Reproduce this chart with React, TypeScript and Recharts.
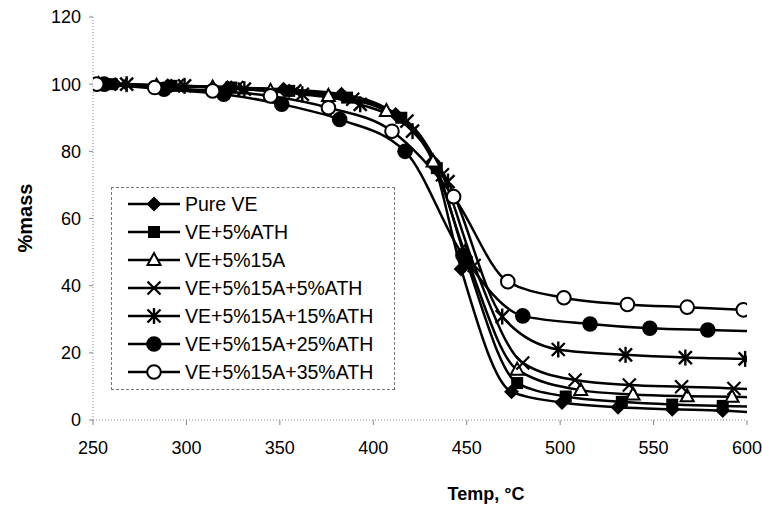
import { LineChart, Line, XAxis, YAxis } from 'recharts'

const FONT = '"Liberation Sans", Arial, sans-serif'

const xTicks = [250, 300, 350, 400, 450, 500, 550, 600]
const yTicks = [0, 20, 40, 60, 80, 100, 120]

// Pure VE
const pureTemp = [257, 290, 322, 352, 383, 412, 432, 447, 474, 501, 531, 560, 587, 600]
const pureMass = [100, 99.5, 99, 98.5, 97, 91, 77, 45, 8.4, 5.2, 3.8, 3.2, 2.8, 2.4]

// VE + 5% ATH
const athTemp = [260, 292, 324, 355, 386, 415, 434, 450, 477, 503, 533, 560, 587, 600]
const athMass = [100, 99.5, 99, 98, 96, 90, 75, 47, 11, 7.0, 5.4, 4.6, 4.2, 4.0]

// VE + 5% 15A
const clayTemp = [253, 284, 314, 345, 376, 407, 432, 449, 477, 511, 539, 568, 592, 600]
const clayMass = [100, 99.5, 99, 98, 96.5, 92, 77, 50, 15, 8.9, 7.6, 7.1, 6.9, 6.8]

// VE + 5% 15A + 5% ATH
const clay5Temp = [265, 295, 327, 358, 389, 418, 437, 454, 480, 508, 537, 565, 593, 600]
const clay5Mass = [100, 99.5, 99, 98, 95.5, 89, 73, 46, 17, 11.9, 10.4, 9.9, 9.4, 9.2]

// VE + 5% 15A + 15% ATH
const clay15Temp = [268, 299, 331, 362, 393, 421, 440, 469, 499, 535, 567, 599]
const clay15Mass = [100, 99.5, 98.5, 97, 94, 86, 71, 30.8, 21, 19.4, 18.6, 18.2]

// VE + 5% 15A + 25% ATH
const clay25Temp = [256, 288, 320, 351, 382, 417, 448, 480, 516, 548, 579, 600]
const clay25Mass = [100, 98.5, 97, 94, 89.5, 80, 49, 31, 28.6, 27.3, 26.8, 26.5]

// VE + 5% 15A + 35% ATH
const clay35Temp = [252, 283, 314, 345, 376, 410, 443, 472, 502, 536, 568, 598]
const clay35Mass = [100, 99, 98, 96.5, 93, 86, 66.5, 41.2, 36.4, 34.4, 33.6, 32.8]

type Shape = 'diamond' | 'square' | 'triangle' | 'cross' | 'star' | 'dot' | 'ring'

const series: { name: string; temp: number[]; mass: number[]; shape: Shape }[] = [
  { name: 'Pure VE', temp: pureTemp, mass: pureMass, shape: 'diamond' },
  { name: 'VE+5%ATH', temp: athTemp, mass: athMass, shape: 'square' },
  { name: 'VE+5%15A', temp: clayTemp, mass: clayMass, shape: 'triangle' },
  { name: 'VE+5%15A+5%ATH', temp: clay5Temp, mass: clay5Mass, shape: 'cross' },
  { name: 'VE+5%15A+15%ATH', temp: clay15Temp, mass: clay15Mass, shape: 'star' },
  { name: 'VE+5%15A+25%ATH', temp: clay25Temp, mass: clay25Mass, shape: 'dot' },
  { name: 'VE+5%15A+35%ATH', temp: clay35Temp, mass: clay35Mass, shape: 'ring' },
]

function Marker({ cx, cy, shape }: { cx: number; cy: number; shape: Shape }) {
  switch (shape) {
    case 'diamond':
      return <polygon points={`${cx},${cy - 7.5} ${cx + 7.5},${cy} ${cx},${cy + 7.5} ${cx - 7.5},${cy}`} fill="#000" />
    case 'square':
      return <rect x={cx - 6} y={cy - 6} width={12} height={12} fill="#000" />
    case 'triangle':
      return (
        <polygon
          points={`${cx},${cy - 7} ${cx + 6.5},${cy + 5} ${cx - 6.5},${cy + 5}`}
          fill="#fff"
          stroke="#000"
          strokeWidth={2}
        />
      )
    case 'cross':
      return (
        <g stroke="#000" strokeWidth={2.2}>
          <line x1={cx - 6.5} y1={cy - 6.5} x2={cx + 6.5} y2={cy + 6.5} />
          <line x1={cx - 6.5} y1={cy + 6.5} x2={cx + 6.5} y2={cy - 6.5} />
        </g>
      )
    case 'star':
      return (
        <g stroke="#000" strokeWidth={2.4}>
          <line x1={cx - 6.5} y1={cy - 6.5} x2={cx + 6.5} y2={cy + 6.5} />
          <line x1={cx - 6.5} y1={cy + 6.5} x2={cx + 6.5} y2={cy - 6.5} />
          <line x1={cx} y1={cy - 8} x2={cx} y2={cy + 8} />
        </g>
      )
    case 'dot':
      return <circle cx={cx} cy={cy} r={7.8} fill="#000" />
    case 'ring':
      return <circle cx={cx} cy={cy} r={6.8} fill="#fff" stroke="#000" strokeWidth={2} />
  }
}

// markers sit on the measured points only, not on the end point at the axis limit
const dotFor = (shape: Shape) => (props: any) => {
  const { cx, cy, index, payload } = props
  if (payload.temp >= 600 || cx == null || cy == null) return <g key={index} />
  return <Marker key={index} cx={cx} cy={cy} shape={shape} />
}

export default function App() {
  return (
    <div style={{ position: 'absolute', left: 0, top: 0, width: 762, height: 506, background: '#fff' }}>
      <LineChart width={762} height={506} margin={{ top: 17, right: 15, left: 0, bottom: 0 }}>
        <XAxis
          type="number"
          dataKey="temp"
          domain={[250, 600]}
          ticks={xTicks}
          allowDataOverflow
          height={86}
          axisLine={{ stroke: '#888', strokeDasharray: '1 2' }}
          tickLine={{ stroke: '#888' }}
          tickSize={5}
          tickMargin={16}
          tick={{ fill: '#000', fontSize: 18, fontFamily: FONT }}
        />
        <YAxis
          type="number"
          domain={[0, 120]}
          ticks={yTicks}
          width={93}
          axisLine={{ stroke: '#888', strokeDasharray: '1 2' }}
          tickLine={{ stroke: '#888' }}
          tickSize={4}
          tickMargin={8}
          tick={{ fill: '#000', fontSize: 18, fontFamily: FONT }}
        />
        {series.map((s) => (
          <Line
            key={s.name}
            name={s.name}
            type="monotone"
            data={s.temp.map((t, i) => ({ temp: t, mass: s.mass[i] }))}
            dataKey="mass"
            stroke="#000"
            strokeWidth={2.5}
            dot={dotFor(s.shape)}
            activeDot={false}
            isAnimationActive={false}
          />
        ))}
      </LineChart>

      <div
        style={{
          position: 'absolute',
          left: 25,
          top: 218,
          transform: 'translate(-50%, -50%) rotate(-90deg)',
          fontFamily: FONT,
          fontWeight: 700,
          fontSize: 20,
          whiteSpace: 'nowrap',
        }}
      >
        %mass
      </div>
      <div
        style={{
          position: 'absolute',
          left: 486,
          top: 494,
          transform: 'translate(-50%, -50%)',
          fontFamily: FONT,
          fontWeight: 700,
          fontSize: 18,
          whiteSpace: 'nowrap',
        }}
      >
        Temp, °C
      </div>

      <div
        style={{
          position: 'absolute',
          left: 111,
          top: 187,
          width: 284,
          height: 203,
          boxSizing: 'border-box',
          border: '1px dashed #777',
          paddingTop: 2,
          background: '#fff',
        }}
      >
        {series.map((s) => (
          <div key={s.name} style={{ display: 'flex', alignItems: 'center', height: 28 }}>
            <svg width={52} height={20} style={{ marginLeft: 16, flex: 'none' }}>
              <line x1={0} y1={10} x2={52} y2={10} stroke="#000" strokeWidth={2.5} />
              <Marker cx={26} cy={10} shape={s.shape} />
            </svg>
            <span style={{ marginLeft: 5, fontFamily: FONT, fontSize: 19.5, whiteSpace: 'nowrap' }}>{s.name}</span>
          </div>
        ))}
      </div>
    </div>
  )
}
